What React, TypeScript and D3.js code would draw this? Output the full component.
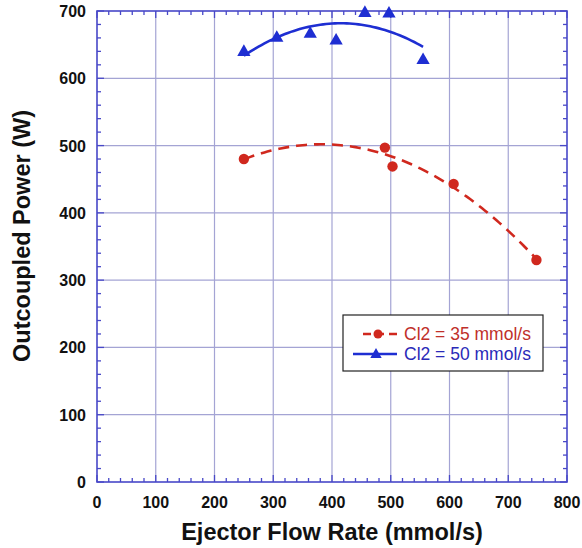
import React from "react";
import * as d3 from "d3";

const xTicks = [0, 100, 200, 300, 400, 500, 600, 700, 800];
const yTicks = [0, 100, 200, 300, 400, 500, 600, 700];

const cl35X = [250, 490, 503, 607, 748];
const cl35Y = [480, 497, 469, 443, 330];
const cl50X = [250, 306, 363, 407, 456, 497, 555];
const cl50Y = [640, 661, 667, 657, 698, 697, 628];

const seriesNames = ["Cl2 = 35 mmol/s", "Cl2 = 50 mmol/s"];
const RED = "#d0281e";
const BLUE = "#1e2ed2";

function quadFit(xs: number[], ys: number[]) {
  const n = xs.length;
  let s1 = 0, s2 = 0, s3 = 0, s4 = 0, t0 = 0, t1 = 0, t2 = 0;
  for (let i = 0; i < n; i++) {
    const x = xs[i], y = ys[i];
    s1 += x; s2 += x * x; s3 += x * x * x; s4 += x * x * x * x;
    t0 += y; t1 += x * y; t2 += x * x * y;
  }
  const M = [
    [n, s1, s2, t0],
    [s1, s2, s3, t1],
    [s2, s3, s4, t2],
  ];
  for (let i = 0; i < 3; i++) {
    let p = i;
    for (let r = i + 1; r < 3; r++) if (Math.abs(M[r][i]) > Math.abs(M[p][i])) p = r;
    [M[i], M[p]] = [M[p], M[i]];
    for (let r = 0; r < 3; r++) {
      if (r === i) continue;
      const f = M[r][i] / M[i][i];
      for (let c = i; c < 4; c++) M[r][c] -= f * M[i][c];
    }
  }
  const a = M[0][3] / M[0][0], b = M[1][3] / M[1][1], c = M[2][3] / M[2][2];
  return (x: number) => a + b * x + c * x * x;
}

export default function App() {
  const W = 582, H = 548;
  const L = 97, R = 567, T = 11, B = 482;
  const x = d3.scaleLinear().domain([0, 800]).range([L, R]);
  const y = d3.scaleLinear().domain([0, 700]).range([B, T]);

  const minorX = d3.range(0, 801, 20);
  const minorY = d3.range(0, 701, 20);

  const f35 = quadFit(cl35X, cl35Y);
  const f50 = quadFit(cl50X, cl50Y);
  const mk = (f: (v: number) => number, x0: number, x1: number) =>
    d3.line<number>().x((d) => x(d)).y((d) => y(f(d)))(d3.range(x0, x1 + 0.1, 5)) || "";

  const tri = (cx: number, cy: number, s = 7) =>
    `M${cx},${cy - s} L${cx + s * 0.95},${cy + s * 0.65} L${cx - s * 0.95},${cy + s * 0.65} Z`;

  const font = "'Liberation Sans', Arial, sans-serif";
  const gridC = "#a4a4d4";
  const axisC = "#4848c8";

  return (
    <svg width={W} height={H} style={{ position: "absolute", left: 0, top: 0 }} fontFamily={font}>
      <rect width={W} height={H} fill="#fff" />
      {xTicks.slice(1, -1).map((t) => (
        <line key={"gx" + t} x1={x(t)} x2={x(t)} y1={T} y2={B} stroke={gridC} strokeWidth={1.2} />
      ))}
      {yTicks.slice(1, -1).map((t) => (
        <line key={"gy" + t} x1={L} x2={R} y1={y(t)} y2={y(t)} stroke={gridC} strokeWidth={1.2} />
      ))}
      {minorX.map((t) => {
        const len = t % 100 === 0 ? 7 : 4;
        return (
          <g key={"mx" + t}>
            <line x1={x(t)} x2={x(t)} y1={B} y2={B - len} stroke={axisC} strokeWidth={1.3} />
            <line x1={x(t)} x2={x(t)} y1={T} y2={T + len} stroke={axisC} strokeWidth={1.3} />
          </g>
        );
      })}
      {minorY.map((t) => {
        const len = t % 100 === 0 ? 7 : 4;
        return (
          <g key={"my" + t}>
            <line x1={L} x2={L + len} y1={y(t)} y2={y(t)} stroke={axisC} strokeWidth={1.3} />
            <line x1={R} x2={R - len} y1={y(t)} y2={y(t)} stroke={axisC} strokeWidth={1.3} />
          </g>
        );
      })}
      <rect x={L} y={T} width={R - L} height={B - T} fill="none" stroke={axisC} strokeWidth={1.6} />

      {xTicks.map((t) => (
        <text key={"xt" + t} x={x(t)} y={508} textAnchor="middle" fontSize={16} fontWeight="bold" fill="#111">
          {t}
        </text>
      ))}
      {yTicks.map((t) => (
        <text key={"yt" + t} x={86} y={y(t) + 6} textAnchor="end" fontSize={16} fontWeight="bold" fill="#111">
          {t}
        </text>
      ))}
      <text x={332} y={540} textAnchor="middle" fontSize={23.5} fontWeight="bold" fill="#111">
        Ejector Flow Rate (mmol/s)
      </text>
      <text transform={`translate(30,236) rotate(-90)`} textAnchor="middle" fontSize={23.5} fontWeight="bold" fill="#111">
        Outcoupled Power (W)
      </text>

      <path d={mk(f35, 250, 750)} fill="none" stroke={RED} strokeWidth={2.6} strokeDasharray="11,7" />
      <path d={mk(f50, 250, 555)} fill="none" stroke={BLUE} strokeWidth={2.6} />
      {cl35X.map((v, i) => (
        <circle key={"r" + i} cx={x(v)} cy={y(cl35Y[i])} r={5.2} fill={RED} />
      ))}
      {cl50X.map((v, i) => (
        <path key={"b" + i} d={tri(x(v), y(cl50Y[i]))} fill={BLUE} />
      ))}

      <g>
        <rect x={343} y={315} width={200} height={56} fill="#fff" stroke="#222" strokeWidth={1.2} />
        <line x1={363} x2={397} y1={334} y2={334} stroke={RED} strokeWidth={2.4} strokeDasharray="8,5" />
        <circle cx={378} cy={334} r={4.5} fill={RED} />
        <text x={404} y={340} fontSize={17.5} fill="#c0302a">{seriesNames[0]}</text>
        <line x1={353} x2={397} y1={354} y2={354} stroke={BLUE} strokeWidth={2.4} />
        <path d={tri(376, 354, 6)} fill={BLUE} />
        <text x={404} y={360} fontSize={17.5} fill="#2a2ab8">{seriesNames[1]}</text>
      </g>
    </svg>
  );
}
